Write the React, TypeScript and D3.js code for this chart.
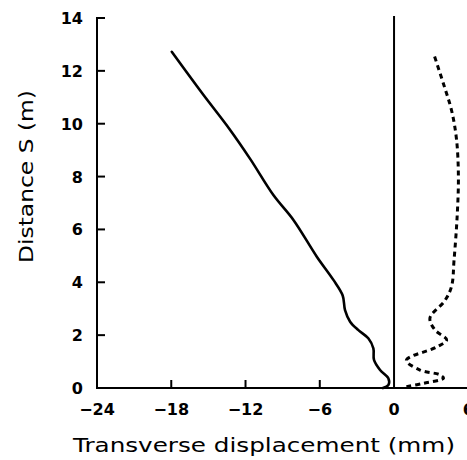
import React from "react";
import { scaleLinear, line, curveCatmullRom } from "d3";

// solid curve: transverse displacement (mm) vs distance S (m)
const solidX = [-0.9, -0.45, -0.46, -1.13, -1.62, -1.67, -2.08, -2.88, -3.55, -3.96, -4.15, -4.9, -6.24, -8.13, -9.75, -11.6, -13.3, -15.5, -17.96];
const solidS = [0.0, 0.12, 0.37, 0.68, 1.06, 1.5, 1.88, 2.19, 2.51, 2.95, 3.5, 4.09, 4.97, 6.36, 7.3, 8.65, 9.8, 11.15, 12.72];

// dashed curve
const dashX = [1.0, 2.4, 4.0, 3.7, 2.1, 1.0, 3.45, 4.25, 3.3, 2.9, 4.1, 4.65, 4.85, 5.1, 5.2, 5.05, 4.65, 4.0, 3.2];
const dashS = [0.05, 0.18, 0.37, 0.5, 0.68, 1.05, 1.55, 1.82, 2.2, 2.65, 3.3, 3.85, 4.85, 6.5, 8.0, 9.4, 10.5, 11.5, 12.65];

const xTicks = [-24, -18, -12, -6, 0, 6];
const yTicks = [0, 2, 4, 6, 8, 10, 12, 14];

const W = 467;
const H = 460;

export default function App() {
  const x = scaleLinear().domain([-24, 6]).range([97, 468.3]);
  const y = scaleLinear().domain([0, 14]).range([388, 18]);

  const mk = (xs: number[], ss: number[]) =>
    line<[number, number]>()
      .x((d) => x(d[0]))
      .y((d) => y(d[1]))
      .curve(curveCatmullRom)(xs.map((v, i) => [v, ss[i]]));

  const font = "'DejaVu Sans', sans-serif";
  const fmt = (v: number) => (v < 0 ? "\u2212" + Math.abs(v) : String(v));

  return (
    <svg width={W} height={H} style={{ position: "absolute", left: 0, top: 0, background: "#fff" }}>
      {/* axes */}
      <path d={`M${x(-24) + 8},${y(14)}H${x(-24)}V${y(0)}H${W}`} fill="none" stroke="#000" strokeWidth={2} />
      <line x1={x(0)} x2={x(0)} y1={16} y2={y(0)} stroke="#000" strokeWidth={2} />
      {yTicks.slice(1, -1).map((t) => (
        <line key={t} x1={x(-24)} x2={x(-24) + 8} y1={y(t)} y2={y(t)} stroke="#000" strokeWidth={2} />
      ))}
      {xTicks.slice(1, -2).map((t) => (
        <line key={t} x1={x(t)} x2={x(t)} y1={y(0)} y2={y(0) - 8} stroke="#000" strokeWidth={2} />
      ))}
      {yTicks.map((t) => (
        <text key={t} x={83} y={y(t) + 6} textAnchor="end" fontFamily={font} fontWeight="bold" fontSize={16}>
          {t}
        </text>
      ))}
      {xTicks.map((t) => (
        <text key={t} x={x(t)} y={415} textAnchor="middle" fontFamily={font} fontWeight="bold" fontSize={16}>
          {fmt(t)}
        </text>
      ))}
      <text x={73} y={452} fontFamily={font} fontSize={20} textLength={382} lengthAdjust="spacingAndGlyphs">
        Transverse displacement (mm)
      </text>
      <text
        transform="translate(33,263) rotate(-90)"
        fontFamily={font}
        fontSize={20}
        textLength={173}
        lengthAdjust="spacingAndGlyphs"
      >
        Distance S (m)
      </text>

      {/* curves */}
      <path d={mk(solidX, solidS) ?? ""} fill="none" stroke="#000" strokeWidth={2.6} strokeLinecap="round" />
      <path d={mk(dashX, dashS) ?? ""} fill="none" stroke="#000" strokeWidth={3} strokeDasharray="5,4" />
    </svg>
  );
}
